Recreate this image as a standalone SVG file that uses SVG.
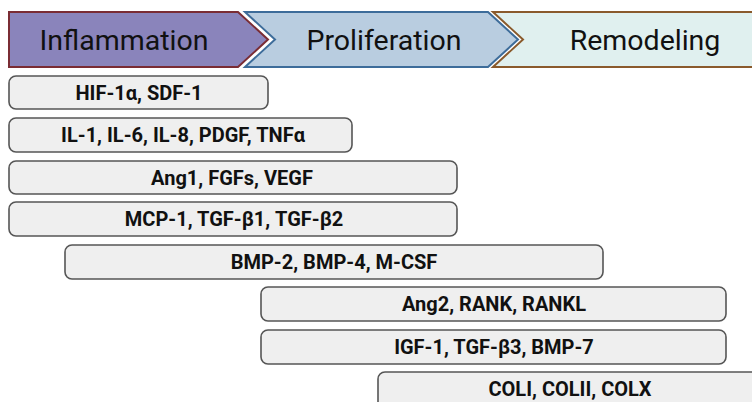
<svg xmlns="http://www.w3.org/2000/svg" width="752" height="402" viewBox="0 0 752 402">
<style>
.ph{font-family:Roboto,"Liberation Sans",sans-serif;font-size:28.5px;fill:#111;text-anchor:middle}
.bx{fill:#efefef;stroke:#555;stroke-width:1.6}
.lb{font-family:Roboto,"Liberation Sans",sans-serif;font-size:20px;font-weight:bold;fill:#111;text-anchor:middle}
</style>
<rect width="752" height="402" fill="#ffffff"/>
<g id="phase-remodeling">
<path d="M493,12 L762,12 L762,67 L493,67 L523,39.5 Z" fill="#e0f0ef" stroke="#8a5a2c" stroke-width="2"/>
<text class="ph" x="645" y="50">Remodeling</text>
</g>
<g id="phase-proliferation">
<path d="M245,12 L488,12 L518,39.5 L488,67 L245,67 L275,39.5 Z" fill="#b9cde0" stroke="#3d6c9a" stroke-width="2"/>
<text class="ph" x="384" y="50">Proliferation</text>
</g>
<g id="phase-inflammation">
<path d="M9,12 L238,12 L268,39.5 L238,67 L9,67 Z" fill="#8a84bb" stroke="#7a2c34" stroke-width="2"/>
<text class="ph" x="124" y="50">Inflammation</text>
</g>
<g id="r1"><rect class="bx" x="9" y="76" width="259" height="33" rx="7"/><text class="lb" x="139" y="100">HIF-1α, SDF-1</text></g>
<g id="r2"><rect class="bx" x="9" y="118" width="343" height="34" rx="7"/><text class="lb" x="183" y="142">IL-1, IL-6, IL-8, PDGF, TNFα</text></g>
<g id="r3"><rect class="bx" x="9" y="161" width="448" height="33" rx="7"/><text class="lb" x="232" y="184.5">Ang1, FGFs, VEGF</text></g>
<g id="r4"><rect class="bx" x="9" y="202" width="448" height="34" rx="7"/><text class="lb" x="234" y="226">MCP-1, TGF-β1, TGF-β2</text></g>
<g id="r5"><rect class="bx" x="65" y="245" width="538" height="34" rx="7"/><text class="lb" x="334" y="269">BMP-2, BMP-4, M-CSF</text></g>
<g id="r6"><rect class="bx" x="261" y="287" width="465" height="34" rx="7"/><text class="lb" x="494" y="311">Ang2, RANK, RANKL</text></g>
<g id="r7"><rect class="bx" x="261" y="330" width="465" height="34" rx="7"/><text class="lb" x="494" y="354">IGF-1, TGF-β3, BMP-7</text></g>
<g id="r8"><rect class="bx" x="378" y="372" width="386" height="40" rx="7"/><text class="lb" x="570" y="396">COLI, COLII, COLX</text></g>
<g id="connectors"/>
</svg>
